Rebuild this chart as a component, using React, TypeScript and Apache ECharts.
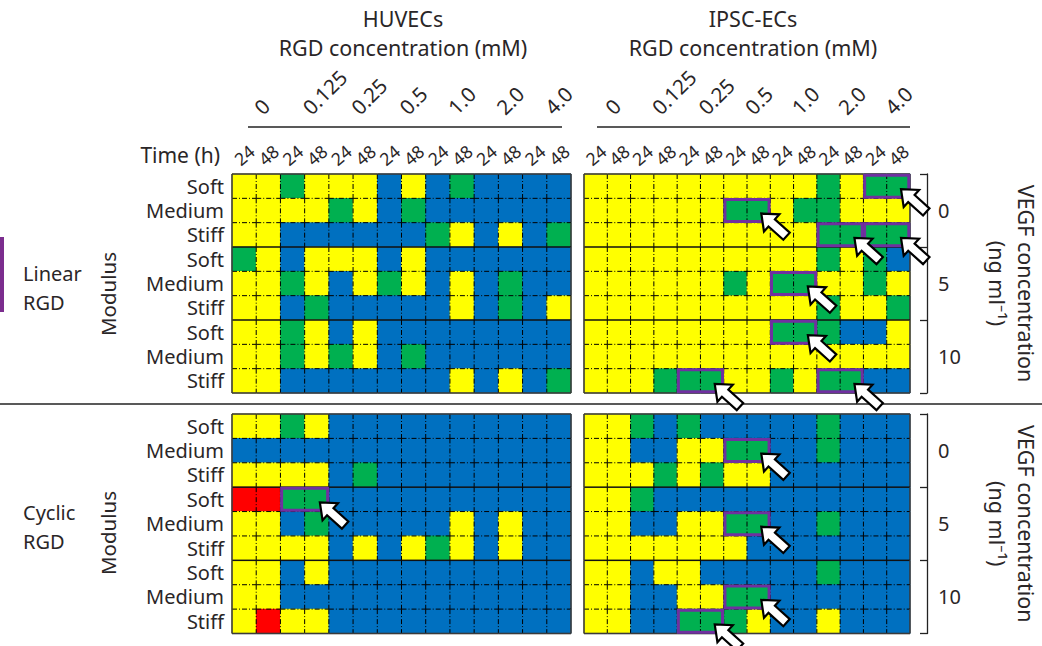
import React, { useEffect, useRef } from "react";
import * as echarts from "echarts";

// ---- data ----
const timeLabels = ["24", "48", "24", "48", "24", "48", "24", "48", "24", "48", "24", "48", "24", "48"];
const rgdLabels = ["0", "0.125", "0.25", "0.5", "1.0", "2.0", "4.0"];
const modulusLabels = ["Soft", "Medium", "Stiff", "Soft", "Medium", "Stiff", "Soft", "Medium", "Stiff"];
const vegfLabels = ["0", "5", "10"];

// Y = yellow, G = green, B = blue, R = red
const huvecLinear = [
  "YYGYYYBYBGBBBB",
  "YYYYGYBGBBBBBB",
  "YYBBBBBBGYBYBG",
  "GYBYYYBYBBBBBB",
  "YYGYBYGYBYBGBB",
  "YYBGBBBBBYBGBY",
  "YYGYBYBBBBBBBB",
  "YYGYGYBGBBBBBB",
  "YYBBBBBBBYBYBG",
];
const ipscLinear = [
  "YYYYYYYYYYGYGG",
  "YYYYYYGGYGGYYY",
  "YYYYYYYYYYGGGG",
  "YYYYYYYYYYGYGB",
  "YYYYYYGYGGYYGY",
  "YYYYYYYYYYGYYG",
  "YYYYYYYYGGGBBY",
  "YYYYYYYYYYYYYY",
  "YYYGGGYYGYGGBB",
];
const huvecCyclic = [
  "YYGYBBBBBBBBBB",
  "BBBBBBBBBBBBBB",
  "YYYYBGBBBBBBBB",
  "RRGGBBBBBBBBBB",
  "YYBGBBBBBYBYBB",
  "YYYYBYBYGYBYBB",
  "YYBYBBBBBBBBBB",
  "YYBBBBBBBBBBBB",
  "YRYYBBBBBBBBBB",
];
const ipscCyclic = [
  "YYGBGBBBBBGBBB",
  "YYBBYYGGBBGBBB",
  "YYYGYGYYBBBBBB",
  "YYGBBBBBBBBBBB",
  "YYBBYYGGBBGBBB",
  "YYYYYYYBBBBBBB",
  "YYBYYBBBBBGBBB",
  "YYBBYYGGBBBBBB",
  "YYBBGGGYBBYBBB",
];

// highlighted boxes: [first column, row, last column]
const huvecLinearBoxes: number[][] = [];
const ipscLinearBoxes = [
  [12, 0, 13],
  [6, 1, 7],
  [10, 2, 11],
  [12, 2, 13],
  [8, 4, 9],
  [8, 6, 9],
  [4, 8, 5],
  [10, 8, 11],
];
const huvecCyclicBoxes = [[2, 3, 3]];
const ipscCyclicBoxes = [
  [6, 1, 7],
  [6, 4, 7],
  [6, 7, 7],
  [4, 8, 5],
];

const codeIndex: Record<string, number> = { Y: 0, G: 1, B: 2, R: 3 };
const palette = ["#FFFF00", "#00B050", "#0070C0", "#FF0000"];

const FONT = "Noto Sans";
const TEXT = "#2a2627";

const panels = [
  { rows: huvecLinear, boxes: huvecLinearBoxes, grid: { left: 232, top: 174, width: 339, height: 219 }, top: true, left: true },
  { rows: ipscLinear, boxes: ipscLinearBoxes, grid: { left: 584, top: 174, width: 338, height: 219 }, top: true, left: false },
  { rows: huvecCyclic, boxes: huvecCyclicBoxes, grid: { left: 232, top: 414, width: 339, height: 219.5 }, top: false, left: true },
  { rows: ipscCyclic, boxes: ipscCyclicBoxes, grid: { left: 584, top: 414, width: 338, height: 219.5 }, top: false, left: false },
];

function toCells(rows: string[]) {
  const out: number[][] = [];
  rows.forEach((row, r) => {
    row.split("").forEach((ch, c) => out.push([c, r, codeIndex[ch]]));
  });
  return out;
}

const dashDot = [5, 2, 1, 2];

function arrowPoints(tx: number, ty: number) {
  const ang = (42 * Math.PI) / 180;
  const ux = Math.cos(ang), uy = Math.sin(ang);
  const nx = -uy, ny = ux;
  const pts: number[][] = [
    [0, 0], [14, 11.5], [14, 4.8], [34, 4.8], [34, -4.8], [14, -4.8], [14, -11.5],
  ];
  return pts.map(([a, p]) => [tx + a * ux + p * nx, ty + a * uy + p * ny]);
}

function buildOption() {
  const grid: any[] = [];
  const xAxis: any[] = [];
  const yAxis: any[] = [];
  const series: any[] = [];

  panels.forEach((pn, i) => {
    grid.push({ ...pn.grid, containLabel: false });
    const xi = xAxis.length;
    xAxis.push({
      gridIndex: i,
      type: "category",
      data: timeLabels.map((_, k) => String(k)),
      position: "top",
      axisLine: { show: false },
      axisTick: { show: false },
      splitLine: { show: false },
      axisLabel: {
        show: pn.top,
        interval: 0,
        rotate: -40,
        fontSize: 17.5,
        margin: 19,
        align: "center",
        verticalAlign: "middle",
        color: TEXT,
        fontFamily: FONT,
        formatter: (_v: string, idx: number) => timeLabels[idx],
      },
    });
    if (pn.top) {
      xAxis.push({
        gridIndex: i,
        type: "category",
        data: rgdLabels,
        position: "top",
        offset: 47,
        axisLine: { show: false },
        axisTick: { show: false },
        splitLine: { show: false },
        axisLabel: {
          interval: 0,
          rotate: -45,
          fontSize: 20.5,
          margin: 15,
          align: "left",
          verticalAlign: "middle",
          padding: [0, 0, 0, 2],
          color: TEXT,
          fontFamily: FONT,
        },
      });
    }
    const yi = yAxis.length;
    yAxis.push({
      gridIndex: i,
      type: "category",
      inverse: true,
      data: modulusLabels.map((_, k) => String(k)),
      axisLine: { show: false },
      axisTick: { show: false },
      splitLine: { show: false },
      axisLabel: {
        show: pn.left,
        interval: 0,
        fontSize: 20,
        lineHeight: 21,
        margin: 8,
        color: TEXT,
        fontFamily: FONT,
        formatter: (_v: string, idx: number) => modulusLabels[idx],
      },
    });
    if (!pn.left) {
      yAxis.push({
        gridIndex: i,
        type: "category",
        inverse: true,
        position: "right",
        offset: 17,
        data: vegfLabels,
        axisLine: { show: true, lineStyle: { color: "#222", width: 1.3 } },
        axisTick: { show: true, inside: true, length: 7, lineStyle: { color: "#222", width: 1.3 } },
        splitLine: { show: false },
        axisLabel: { interval: 0, fontSize: 20, margin: 11, color: TEXT, fontFamily: FONT },
        name: "VEGF concentration\n(ng ml\u207B\u00B9)",
        nameLocation: "middle",
        nameRotate: -90,
        nameGap: 56,
        nameTextStyle: { fontSize: 21.5, lineHeight: 29, color: TEXT, fontFamily: FONT },
      });
    }

    const cells = toCells(pn.rows);
    series.push({
      type: "custom",
      xAxisIndex: xi,
      yAxisIndex: yi,
      z: 2,
      clip: false,
      data: cells,
      renderItem: (_p: any, api: any) => {
        const p = api.coord([api.value(0), api.value(1)]);
        const s = api.size([1, 1]);
        return {
          type: "rect",
          shape: { x: p[0] - s[0] / 2 - 0.3, y: p[1] - s[1] / 2 - 0.3, width: s[0] + 0.6, height: s[1] + 0.6 },
          style: { fill: palette[api.value(2)] },
        };
      },
    });
    series.push({
      type: "custom",
      xAxisIndex: xi,
      yAxisIndex: yi,
      z: 3,
      clip: false,
      silent: true,
      data: cells,
      renderItem: (_p: any, api: any) => {
        const c = api.value(0), r = api.value(1);
        const p = api.coord([c, r]);
        const s = api.size([1, 1]);
        const x0 = p[0] - s[0] / 2, x1 = p[0] + s[0] / 2;
        const y0 = p[1] - s[1] / 2, y1 = p[1] + s[1] / 2;
        const border = { stroke: "#3a3a3a", lineWidth: 1.6 };
        const dashed = { stroke: "#000", lineWidth: 1, lineDash: dashDot };
        const solid = { stroke: "#111", lineWidth: 1.5 };
        const children: any[] = [];
        children.push({ type: "line", shape: { x1: x1, y1: y0, x2: x1, y2: y1 }, style: c === 13 ? border : dashed });
        children.push({
          type: "line",
          shape: { x1: x0, y1: y1, x2: x1, y2: y1 },
          style: r === 8 ? border : r === 2 || r === 5 ? solid : dashed,
        });
        if (c === 0) children.push({ type: "line", shape: { x1: x0, y1: y0, x2: x0, y2: y1 }, style: border });
        if (r === 0) children.push({ type: "line", shape: { x1: x0, y1: y0, x2: x1, y2: y0 }, style: border });
        return { type: "group", children };
      },
    });
    if (pn.boxes.length) {
      series.push({
        type: "custom",
        xAxisIndex: xi,
        yAxisIndex: yi,
        z: 4,
        clip: false,
        data: pn.boxes,
        renderItem: (_p: any, api: any) => {
          const a = api.coord([api.value(0), api.value(1)]);
          const b = api.coord([api.value(2), api.value(1)]);
          const s = api.size([1, 1]);
          return {
            type: "rect",
            shape: { x: a[0] - s[0] / 2 + 1.2, y: a[1] - s[1] / 2 + 1.2, width: b[0] - a[0] + s[0] - 2.4, height: s[1] - 2.4 },
            style: { fill: "none", stroke: "#7030A0", lineWidth: 3 },
          };
        },
      });
      series.push({
        type: "custom",
        xAxisIndex: xi,
        yAxisIndex: yi,
        z: 5,
        clip: false,
        data: pn.boxes,
        renderItem: (_p: any, api: any) => {
          const a = api.coord([api.value(0), api.value(1)]);
          const b = api.coord([api.value(2), api.value(1)]);
          const s = api.size([1, 1]);
          const tx = b[0] + s[0] / 2 - 9;
          const ty = a[1] + 3;
          return {
            type: "polygon",
            shape: { points: arrowPoints(tx, ty) },
            style: { fill: "#ffffff", stroke: "#000000", lineWidth: 2.2, lineJoin: "miter" },
          };
        },
      });
    }
  });

  const graphic: any[] = [
    { type: "text", x: 403, y: 33, style: { text: "HUVECs\nRGD concentration (mM)", fontSize: 21.5, lineHeight: 29, fontFamily: FONT, fill: TEXT, align: "center", verticalAlign: "middle" } },
    { type: "text", x: 753, y: 33, style: { text: "IPSC-ECs\nRGD concentration (mM)", fontSize: 21.5, lineHeight: 29, fontFamily: FONT, fill: TEXT, align: "center", verticalAlign: "middle" } },
    { type: "line", shape: { x1: 248, y1: 127, x2: 562, y2: 127 }, style: { stroke: "#222", lineWidth: 1.5 } },
    { type: "line", shape: { x1: 597, y1: 127, x2: 910, y2: 127 }, style: { stroke: "#222", lineWidth: 1.5 } },
    { type: "text", x: 220, y: 155, style: { text: "Time (h)", fontSize: 21, fontFamily: FONT, fill: TEXT, align: "right", verticalAlign: "middle" } },
    { type: "text", x: 23, y: 288, style: { text: "Linear\nRGD", fontSize: 20, lineHeight: 29, fontFamily: FONT, fill: TEXT, align: "left", verticalAlign: "middle" } },
    { type: "text", x: 23, y: 527, style: { text: "Cyclic\nRGD", fontSize: 20, lineHeight: 29, fontFamily: FONT, fill: TEXT, align: "left", verticalAlign: "middle" } },
    { type: "text", x: 108, y: 294, rotation: Math.PI / 2, style: { text: "Modulus", fontSize: 20.5, fontFamily: FONT, fill: TEXT, align: "center", verticalAlign: "middle" } },
    { type: "text", x: 108, y: 533, rotation: Math.PI / 2, style: { text: "Modulus", fontSize: 20.5, fontFamily: FONT, fill: TEXT, align: "center", verticalAlign: "middle" } },
    { type: "rect", shape: { x: 0, y: 237, width: 4, height: 75 }, style: { fill: "#7B2D8E" } },
    { type: "line", shape: { x1: 0, y1: 404, x2: 1042, y2: 404 }, style: { stroke: "#222", lineWidth: 1.5 } },
  ];

  return {
    animation: false,
    backgroundColor: "#ffffff",
    textStyle: { fontFamily: FONT },
    grid,
    xAxis,
    yAxis,
    series,
    graphic,
  };
}

export default function App() {
  const ref = useRef<HTMLDivElement>(null);
  useEffect(() => {
    if (!ref.current) return;
    const chart = echarts.init(ref.current, undefined, { renderer: "svg" });
    chart.setOption(buildOption());
    return () => chart.dispose();
  }, []);
  return <div ref={ref} style={{ position: "fixed", left: 0, top: 0, width: 1042, height: 646, background: "#fff" }} />;
}
